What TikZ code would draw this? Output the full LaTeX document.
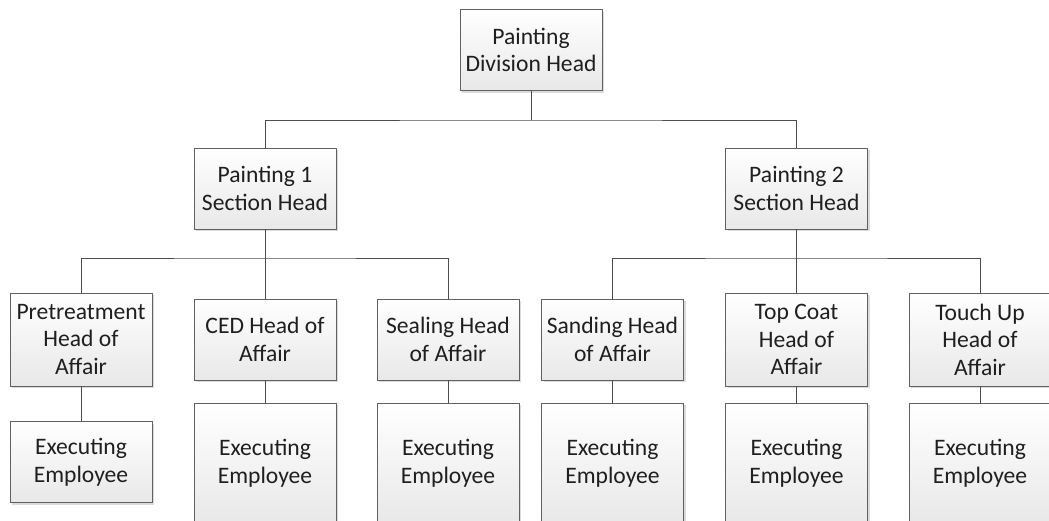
\documentclass[tikz,border=0pt]{standalone}
\usepackage{fontspec}
\setmainfont{Carlito}
\usetikzlibrary{shadows}

\tikzset{
  orgbox/.style={
    draw=black!62, line width=0.9pt,
    top color=white, bottom color=black!9,
    drop shadow={shadow xshift=2.2pt, shadow yshift=-2.2pt, fill=black!14, opacity=1},
    minimum width=142pt, inner sep=0pt, align=center,
    text=black!88,
    font=\fontsize{23.6}{27.5}\selectfont
  },
  twoline/.style={orgbox, minimum height=81pt},
  threeline/.style={orgbox, minimum height=93pt},
  tallbox/.style={orgbox, minimum height=120pt},
  conn/.style={draw=black!70, line width=0.9pt}
}

\begin{document}
\begin{tikzpicture}[x=1pt, y=-1pt]
  \useasboundingbox (0,0) rectangle (1049,521);
  \clip (0,0) rectangle (1049,521);

  % top level
  \node[twoline] (div) at (531,50) {Painting\\Division Head};

  % section heads
  \node[twoline] (sec1) at (265,188.5) {Painting 1\\Section Head};
  \node[twoline] (sec2) at (796.5,188.5) {Painting 2\\Section Head};

  % heads of affair
  \node[threeline] (pre)  at (81,339.5)    {Pretreatment\\Head of\\Affair};
  \node[twoline]   (ced)  at (265,339.5)   {CED Head of\\Affair};
  \node[twoline]   (seal) at (448,339.5)   {Sealing Head\\of Affair};
  \node[twoline]   (sand) at (612.5,339.5) {Sanding Head\\of Affair};
  \node[threeline] (top)  at (796.5,339.5) {Top Coat\\Head of\\Affair};
  \node[threeline] (tch)  at (980,339.5)   {Touch Up\\Head of\\Affair};

  % executing employees
  \node[twoline]  (e1) at (81,462)    {Executing\\Employee};
  \node[tallbox]  (e2) at (265,463)   {Executing\\Employee};
  \node[tallbox]  (e3) at (448,463)   {Executing\\Employee};
  \node[tallbox]  (e4) at (612.5,463) {Executing\\Employee};
  \node[tallbox]  (e5) at (796.5,463) {Executing\\Employee};
  \node[tallbox]  (e6) at (980,463)   {Executing\\Employee};

  % division head to section heads
  \draw[conn] (div.south) -- (div.south |- 0,120);
  \draw[conn] (sec1.north) |- (div.south |- 0,120) -| (sec2.north);

  % section heads to heads of affair
  \draw[conn] (sec1.south) -- (ced.north);
  \draw[conn] (pre.north) |- (sec1.south |- 0,258) -| (seal.north);
  \draw[conn] (sec2.south) -- (top.north);
  \draw[conn] (sand.north) |- (sec2.south |- 0,258) -| (tch.north);

  % heads of affair to executing employees
  \draw[conn] (pre.south)  -- (e1.north);
  \draw[conn] (ced.south)  -- (e2.north);
  \draw[conn] (seal.south) -- (e3.north);
  \draw[conn] (sand.south) -- (e4.north);
  \draw[conn] (top.south)  -- (e5.north);
  \draw[conn] (tch.south)  -- (e6.north);
\end{tikzpicture}
\end{document}
